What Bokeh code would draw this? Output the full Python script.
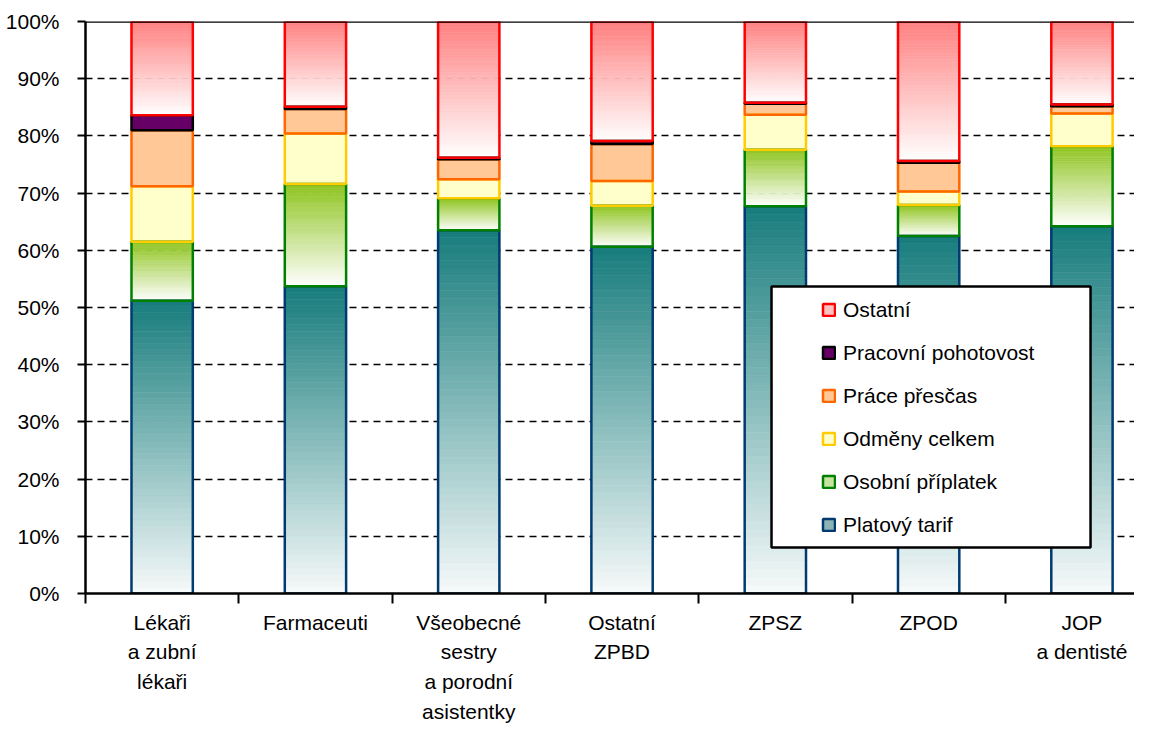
import numpy as np
from bokeh.plotting import figure
from bokeh.models import (Range1d, FixedTicker, CustomJSTickFormatter, PrintfTickFormatter,
                          ColumnDataSource, Span, BoxAnnotation, Legend, LegendItem)
from bokeh.embed import file_html
from bokeh.resources import INLINE

# ---------------- data ----------------
categories = ["Lékaři\na zubní\nlékaři", "Farmaceuti", "Všeobecné\nsestry\na porodní\nasistentky",
              "Ostatní\nZPBD", "ZPSZ", "ZPOD", "JOP\na dentisté"]
platovy_tarif = [51.2, 53.7, 63.5, 60.6, 67.7, 62.5, 64.2]
osobni_priplatek = [10.3, 17.9, 5.6, 7.2, 9.9, 5.4, 14.0]
odmeny_celkem = [9.7, 8.8, 3.3, 4.3, 6.1, 2.4, 5.7]
prace_prescas = [9.8, 4.3, 3.5, 6.5, 1.9, 5.0, 1.3]
pracovni_pohotovost = [2.6, 0.4, 0.3, 0.5, 0.2, 0.3, 0.3]
ostatni = [16.4, 14.9, 23.8, 20.9, 14.2, 24.4, 14.5]
y_ticks = [0, 10, 20, 30, 40, 50, 60, 70, 80, 90, 100]

# name, values, top colour, bottom colour (gradient) or None, border, legend swatch
series = [
    ("Platový tarif", platovy_tarif, "#177c7c", "#f7fafa", "#003a70", "#8db4b4"),
    ("Osobní příplatek", osobni_priplatek, "#8ec41e", "#ffffff", "#008000", "#c6e3a0"),
    ("Odměny celkem", odmeny_celkem, "#ffffcc", None, "#ffcc00", "#ffffcc"),
    ("Práce přesčas", prace_prescas, "#ffc896", None, "#ff6600", "#ffc896"),
    ("Pracovní pohotovost", pracovni_pohotovost, "#660066", None, "#000000", "#660066"),
    ("Ostatní", ostatni, "#ff8080", "#ffffff", "#ff0000", "#ffc0c0"),
]

FONT = "Liberation Sans"
n = len(categories)
BAR_W = 0.4
NS = 48

p = figure(width=1134, height=727, output_backend="svg", toolbar_location=None,
           x_range=Range1d(0, 1049 / 153.3), y_range=Range1d(0, 100),
           min_border_left=85, min_border_right=0, min_border_top=21, min_border_bottom=134)
p.outline_line_color = None
p.background_fill_color = "white"
p.border_fill_color = "white"
p.xgrid.visible = False
p.ygrid.ticker = FixedTicker(ticks=y_ticks)
p.ygrid.grid_line_color = "black"
p.ygrid.grid_line_width = 1.5
p.ygrid.grid_line_dash = "7 5"

def hex2rgb(h):
    h = h.lstrip("#")
    return np.array([int(h[i:i + 2], 16) for i in (0, 2, 4)], dtype=float)

def mix(c0, c1, t):
    c = hex2rgb(c0) * (1 - t) + hex2rgb(c1) * t
    return "#%02x%02x%02x" % tuple(int(round(v)) for v in c)

x = np.arange(n) + 0.5
base = np.zeros(n)
outlines = []
legend_renderers = {}
for name, vals, top_c, bot_c, line_c, leg_c in series:
    vals = np.array(vals, dtype=float)
    top = base + vals
    if bot_c is not None:
        d = dict(left=[], right=[], bottom=[], top=[], color=[])
        for k in range(NS):
            c = mix(bot_c, top_c, (k + 0.5) / NS)
            d["left"] += list(x - BAR_W / 2)
            d["right"] += list(x + BAR_W / 2)
            d["bottom"] += list(base + vals * k / NS)
            d["top"] += list(base + vals * (k + 1) / NS)
            d["color"] += [c] * n
        p.quad(left="left", right="right", bottom="bottom", top="top", source=ColumnDataSource(d),
               fill_color="color", line_color="color", line_width=0.6)
    else:
        p.quad(left=x - BAR_W / 2, right=x + BAR_W / 2, bottom=base, top=top,
               fill_color=top_c, line_color=None)
    outlines.append((x.copy(), base.copy(), top.copy(), line_c))
    # hidden renderer used only for the legend swatch
    legend_renderers[name] = p.quad(left=x - BAR_W / 2, right=x + BAR_W / 2, bottom=base, top=top,
                                    fill_color=leg_c, line_color=line_c, line_width=2.5,
                                    visible=False)
    base = top

for xx, b, t, lc in outlines:
    p.quad(left=xx - BAR_W / 2, right=xx + BAR_W / 2, bottom=b, top=t,
           fill_color=None, line_color=lc, line_width=2.5)

p.add_layout(Span(location=100, dimension="width", line_color="black", line_width=2.5))

# axes
yax = p.yaxis[0]
yax.ticker = FixedTicker(ticks=y_ticks)
yax.formatter = PrintfTickFormatter(format="%d%%")
yax.axis_line_width = 2.5
yax.axis_line_color = "black"
yax.major_tick_out = 8
yax.major_tick_in = 0
yax.major_tick_line_width = 2
yax.minor_tick_line_color = None
yax.major_label_text_font = FONT
yax.major_label_text_font_size = "21px"
yax.major_label_text_color = "black"
yax.major_label_standoff = 18

xax = p.xaxis[0]
xax.ticker = FixedTicker(ticks=list(x), minor_ticks=list(range(n + 1)))
xax.formatter = CustomJSTickFormatter(args=dict(labels=categories),
                                      code="return labels[Math.floor(tick)];")
xax.axis_line_width = 2.5
xax.axis_line_color = "black"
xax.major_tick_out = 0
xax.major_tick_in = 0
xax.minor_tick_out = 10
xax.minor_tick_in = 0
xax.minor_tick_line_width = 2
xax.minor_tick_line_color = "black"
xax.major_label_text_font = FONT
xax.major_label_text_font_size = "21px"
xax.major_label_text_color = "black"
xax.major_label_text_line_height = 1.3
xax.major_label_standoff = 7

# legend box + legend
p.add_layout(BoxAnnotation(left=4.475, right=6.556, bottom=8.04, top=53.67,
                           fill_color="white", fill_alpha=1.0, line_color="black",
                           line_alpha=1.0, line_width=2.5))
order = ["Ostatní", "Pracovní pohotovost", "Práce přesčas", "Odměny celkem",
         "Osobní příplatek", "Platový tarif"]
legend = Legend(items=[LegendItem(label=nm, renderers=[legend_renderers[nm]]) for nm in order],
                location=(736, 47), padding=0, margin=0, spacing=0, label_height=43,
                glyph_height=15, glyph_width=15, label_standoff=7,
                border_line_color=None, background_fill_alpha=0,
                inactive_fill_alpha=0,
                label_text_font=FONT, label_text_font_size="21px", label_text_color="black")
p.add_layout(legend)

open("out.html", "w").write(file_html(p, INLINE))
